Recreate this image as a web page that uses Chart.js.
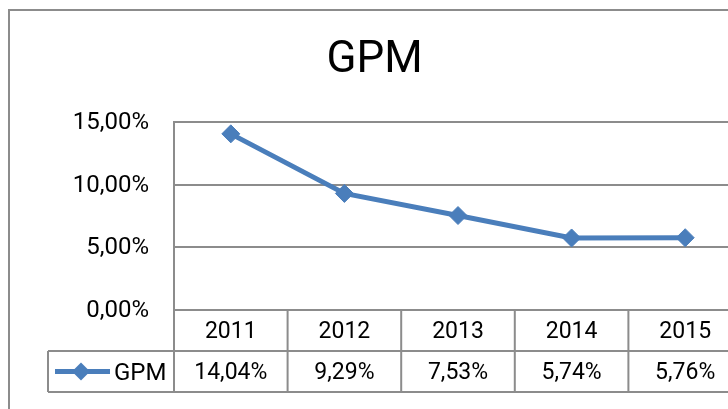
<!DOCTYPE html>
<html>
<head>
<meta charset="utf-8">
<title>GPM</title>
<script src="https://cdn.jsdelivr.net/npm/chart.js@4.4.1/dist/chart.umd.min.js"></script>
<style>
  html, body { margin: 0; padding: 0; background: #fff; overflow: hidden; }
  #wrap { width: 728px; height: 409px; overflow: hidden; }
  canvas { display: block; }
</style>
</head>
<body>
<div id="wrap"><canvas id="gpmChart" width="760" height="409"></canvas></div>
<script>
// ===============================
// Data
// ===============================
const years = ["2011", "2012", "2013", "2014", "2015"];
const gpmValues = [14.04, 9.29, 7.53, 5.74, 5.76];
const yTicks = [0, 5, 10, 15];
const seriesName = "GPM";

const BLUE = "#4A7EBB";
const GRID = "#8c8c8c";
const FONT = "Roboto, 'Liberation Sans', sans-serif";

function pct(v) {
    return v.toFixed(2).replace(".", ",") + "%";
}

// ===============================
// Outer frame + data table under the plot
// ===============================
const tablePlugin = {
    id: "dataTable",
    beforeDraw(chart) {
        const ctx = chart.ctx;
        ctx.save();
        ctx.strokeStyle = GRID;
        ctx.lineWidth = 2;
        ctx.strokeRect(9, 10, chart.width + 20, chart.height + 20);
        ctx.restore();
    },
    afterDraw(chart) {
        const ctx = chart.ctx;
        const area = chart.chartArea;
        const x = chart.scales.x;
        const rowH = 41;
        const top = area.bottom;
        const mid = top + rowH;
        const bottom = mid + rowH;
        const legendLeft = 48;
        const half = (x.getPixelForValue(1) - x.getPixelForValue(0)) / 2;

        ctx.save();
        ctx.strokeStyle = GRID;
        ctx.lineWidth = 2;
        ctx.beginPath();
        ctx.moveTo(legendLeft, mid); ctx.lineTo(area.right, mid);
        ctx.moveTo(legendLeft, bottom); ctx.lineTo(area.right, bottom);
        ctx.moveTo(legendLeft, mid); ctx.lineTo(legendLeft, bottom);
        ctx.moveTo(area.left, top); ctx.lineTo(area.left, bottom);
        years.forEach((y, i) => {
            const bx = x.getPixelForValue(i) + half;
            ctx.moveTo(bx, top); ctx.lineTo(bx, bottom);
        });
        ctx.stroke();

        // cell texts
        ctx.fillStyle = "#000";
        ctx.font = "23px " + FONT;
        ctx.textAlign = "center";
        ctx.textBaseline = "middle";
        years.forEach((y, i) => {
            const cx = x.getPixelForValue(i);
            ctx.fillText(y, cx, top + rowH / 2 + 2);
            ctx.fillText(pct(gpmValues[i]), cx, mid + rowH / 2 + 2);
        });

        // legend key in the first column
        const ky = mid + rowH / 2;
        ctx.strokeStyle = BLUE;
        ctx.lineWidth = 5;
        ctx.beginPath();
        ctx.moveTo(55, ky); ctx.lineTo(110, ky);
        ctx.stroke();
        ctx.fillStyle = BLUE;
        ctx.beginPath();
        ctx.moveTo(81, ky - 9); ctx.lineTo(90, ky);
        ctx.lineTo(81, ky + 9); ctx.lineTo(72, ky);
        ctx.closePath();
        ctx.fill();

        ctx.fillStyle = "#000";
        ctx.font = "24px " + FONT;
        ctx.textAlign = "left";
        ctx.fillText(seriesName, 114, ky + 2);
        ctx.restore();
    }
};

// ===============================
// Chart
// ===============================
function renderGpmChart() {
    const ctx = document.getElementById("gpmChart").getContext("2d");

    new Chart(ctx, {
        type: "line",
        data: {
            labels: years,
            datasets: [{
                label: seriesName,
                data: gpmValues,
                borderColor: BLUE,
                backgroundColor: BLUE,
                borderWidth: 5,
                tension: 0,
                pointStyle: "rectRot",
                pointRadius: 9,
                pointHoverRadius: 9,
                pointBorderWidth: 1,
                pointBackgroundColor: BLUE,
                pointBorderColor: BLUE
            }]
        },
        options: {
            responsive: false,
            animation: false,
            devicePixelRatio: 1,
            // left padding shifts the centred title to match the reference
            layout: { padding: { top: 0, left: 7, right: 18, bottom: 0 } },
            plugins: {
                legend: { display: false },
                tooltip: { enabled: false },
                title: {
                    display: true,
                    text: seriesName,
                    color: "#000",
                    font: { family: FONT, size: 44, weight: "normal" },
                    padding: { top: 35, bottom: 34 }
                }
            },
            scales: {
                x: {
                    offset: true,
                    grid: { display: false },
                    border: { display: false },
                    ticks: { display: false },
                    afterFit: s => { s.height = 99; }
                },
                y: {
                    min: 0,
                    max: 15,
                    afterBuildTicks: s => { s.ticks = yTicks.map(v => ({ value: v })); },
                    afterFit: s => { s.width = 167; },
                    grid: { color: GRID, lineWidth: 2, drawTicks: false },
                    border: { display: true, color: GRID, width: 2 },
                    ticks: {
                        padding: 25,
                        labelOffset: 1,
                        color: "#000",
                        font: { family: FONT, size: 24 },
                        callback: v => pct(v)
                    }
                }
            }
        },
        plugins: [tablePlugin]
    });
}

if (document.fonts && document.fonts.load) {
    Promise.all([
        document.fonts.load("24px Roboto"),
        document.fonts.load("44px Roboto")
    ]).then(renderGpmChart, renderGpmChart);
} else {
    renderGpmChart();
}
</script>
</body>
</html>
